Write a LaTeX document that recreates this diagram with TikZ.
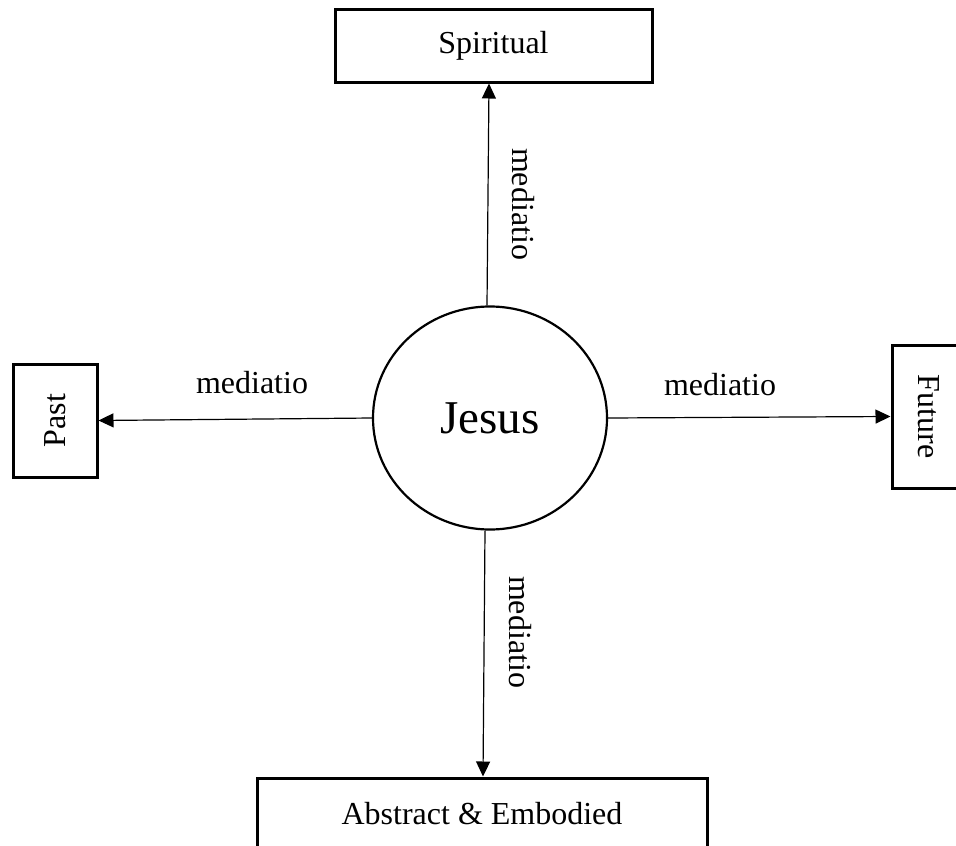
\documentclass[tikz,border=0pt]{standalone}
\usepackage{fontspec}
\setmainfont{Liberation Serif}
\usetikzlibrary{arrows.meta,shapes.geometric}
\tikzset{
  box/.style={draw, line width=3pt, rectangle, inner sep=0pt, font=\fontsize{32}{38}\selectfont},
  conn/.style={line width=1.2pt, -{Triangle[length=15pt,width=14pt]}},
  lbl/.style={inner sep=0pt, font=\fontsize{32}{38}\selectfont}
}
\begin{document}
\begin{tikzpicture}[x=1pt,y=-1pt]
\clip (0,0) rectangle (956,846);
\fill[white] (0,0) rectangle (956,846);
\node[box, minimum width=317pt, minimum height=73pt] (spiritual) at (493.5,45.5) {Spiritual};
\node[draw, ellipse, line width=2.2pt, minimum width=234pt, minimum height=223pt, inner sep=0pt, font=\fontsize{47}{56}\selectfont] (jesus) at (490,418) {Jesus};
\node[box, minimum width=84pt, minimum height=113pt] (past) at (55,420.5) {\rotatebox{90}{Past}};
\node[box, minimum width=74pt, minimum height=143pt] (future) at (929,416.5) {\rotatebox{-90}{Future}};
\node[box, minimum width=450pt, minimum height=72pt] (abstract) at (482,814) {Abstract \& Embodied};
\draw[conn] ([xshift=-3pt]jesus.north) -- ([xshift=-4.5pt]spiritual.south);
\draw[conn] (jesus.west) -- (past.east);
\draw[conn] (jesus.east) -- (future.west);
\draw[conn] ([xshift=-5pt]jesus.south) -- ([xshift=1pt]abstract.north);
\node[lbl, rotate=-90] (lup) at (523,204) {mediatio};
\node[lbl, anchor=base] (lleft) at (252,393) {mediatio};
\node[lbl, anchor=base] (lright) at (720,395) {mediatio};
\node[lbl, rotate=-90] (ldown) at (520,632) {mediatio};
\end{tikzpicture}
\end{document}
